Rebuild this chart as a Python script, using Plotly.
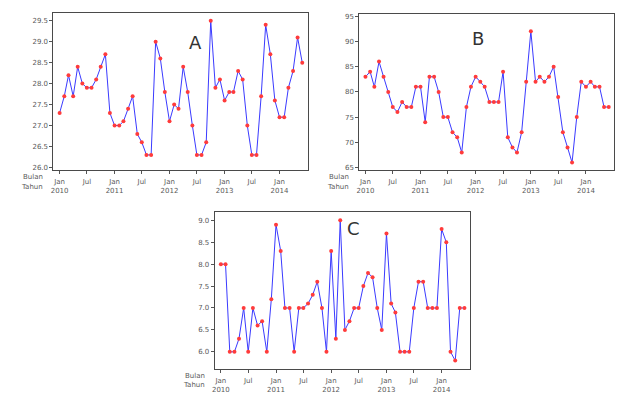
import pandas as pd
import plotly.graph_objects as go

# Monthly series, Jan 2010 - Jun 2014
months = pd.date_range("2010-01-01", periods=54, freq="MS")

series_a = [27.3, 27.7, 28.2, 27.7, 28.4, 28.0, 27.9, 27.9, 28.1, 28.4, 28.7, 27.3,
            27.0, 27.0, 27.1, 27.4, 27.7, 26.8, 26.6, 26.3, 26.3, 29.0, 28.6, 27.8,
            27.1, 27.5, 27.4, 28.4, 27.8, 27.0, 26.3, 26.3, 26.6, 29.5, 27.9, 28.1,
            27.6, 27.8, 27.8, 28.3, 28.1, 27.0, 26.3, 26.3, 27.7, 29.4, 28.7, 27.6,
            27.2, 27.2, 27.9, 28.3, 29.1, 28.5]

series_b = [83, 84, 81, 86, 83, 80, 77, 76, 78, 77, 77, 81,
            81, 74, 83, 83, 80, 75, 75, 72, 71, 68, 77, 81,
            83, 82, 81, 78, 78, 78, 84, 71, 69, 68, 72, 82,
            92, 82, 83, 82, 83, 85, 79, 72, 69, 66, 75, 82,
            81, 82, 81, 81, 77, 77]

series_c = [8.0, 8.0, 6.0, 6.0, 6.3, 7.0, 6.0, 7.0, 6.6, 6.7, 6.0, 7.2,
            8.9, 8.3, 7.0, 7.0, 6.0, 7.0, 7.0, 7.1, 7.3, 7.6, 7.0, 6.0,
            8.3, 6.3, 9.0, 6.5, 6.7, 7.0, 7.0, 7.5, 7.8, 7.7, 7.0, 6.5,
            8.7, 7.1, 6.9, 6.0, 6.0, 6.0, 7.0, 7.6, 7.6, 7.0, 7.0, 7.0,
            8.8, 8.5, 6.0, 5.8, 7.0, 7.0]

tick_dates = ["2010-01-01", "2010-07-01", "2011-01-01", "2011-07-01", "2012-01-01",
              "2012-07-01", "2013-01-01", "2013-07-01", "2014-01-01"]
tick_text = ["Jan<br>2010", "Jul", "Jan<br>2011", "Jul", "Jan<br>2012",
             "Jul", "Jan<br>2013", "Jul", "Jan<br>2014"]

panel_labels = ["A", "B", "C"]
a_ticks = [26.0, 26.5, 27.0, 27.5, 28.0, 28.5, 29.0, 29.5]
b_ticks = [65, 70, 75, 80, 85, 90, 95]
c_ticks = [6.0, 6.5, 7.0, 7.5, 8.0, 8.5, 9.0]

W, H = 617, 394

def px_x(p):
    return p / W

def px_y(p):
    return 1 - p / H

fig = go.Figure()

panels = [
    dict(y=series_a, xax="x", yax="y", xd=[50.7, 306], yd=[12, 173], yr=[25.95, 29.69],
         ticks=a_ticks, fmt=".1f", title_xy=(185, 30), lab_x=42.5, lab_y=(181, 190.5)),
    dict(y=series_b, xax="x2", yax="y2", xd=[358, 614], yd=[13, 173], yr=[64.6, 95.5],
         ticks=b_ticks, fmt="d", title_xy=(485, 26), lab_x=349.5, lab_y=(181, 190.5)),
    dict(y=series_c, xax="x3", yax="y3", xd=[212.7, 469], yd=[216.5, 377.5], yr=[5.61, 9.19],
         ticks=c_ticks, fmt=".1f", title_xy=(352, 233), lab_x=205, lab_y=(384.5, 394)),
]

font_fam = "DejaVu Sans"
tick_font = dict(family=font_fam, size=7, color="#5a5a5a")

for i, p in enumerate(panels):
    fig.add_trace(go.Scatter(
        x=months, y=p["y"], xaxis=p["xax"], yaxis=p["yax"],
        mode="lines+markers",
        line=dict(color="#3a3aff", width=1),
        marker=dict(color="#ff3b3b", size=4),
        showlegend=False,
    ))
    sfx = "" if i == 0 else str(i + 1)
    fig.update_layout(**{
        "xaxis" + sfx: dict(
            domain=[px_x(p["xd"][0]), px_x(p["xd"][1])],
            anchor="y" + sfx,
            range=["2009-11-21", "2014-07-06"],
            tickvals=tick_dates, ticktext=tick_text,
            tickfont=tick_font, ticks="outside", ticklen=3, tickcolor="#555555",
            ticklabelstandoff=2,
            showgrid=False, zeroline=False,
            showline=True, mirror=True, linecolor="#4a4a4a", linewidth=1,
        ),
        "yaxis" + sfx: dict(
            domain=[px_y(p["yd"][1]), px_y(p["yd"][0])],
            anchor="x" + sfx,
            range=p["yr"],
            tickvals=p["ticks"], tickformat=p["fmt"],
            tickfont=tick_font, ticks="outside", ticklen=3, tickcolor="#555555",
            showgrid=False, zeroline=False,
            showline=True, mirror=True, linecolor="#4a4a4a", linewidth=1,
        ),
    })
    fig.add_annotation(text=panel_labels[i], xref="paper", yref="paper",
                       x=px_x(p["title_xy"][0]), y=px_y(p["title_xy"][1]),
                       showarrow=False, font=dict(family=font_fam, size=18, color="#333333"))
    for txt, yy in zip(["Bulan", "Tahun"], p["lab_y"]):
        fig.add_annotation(text=txt, xref="paper", yref="paper",
                           x=px_x(p["lab_x"]), y=px_y(yy), xanchor="right", yanchor="middle",
                           showarrow=False, font=tick_font)

fig.update_layout(
    width=W, height=H,
    margin=dict(l=0, r=0, t=0, b=0),
    paper_bgcolor="white", plot_bgcolor="white",
)

fig.write_html("out.html", config={"displayModeBar": False},
               post_script="document.body.style.margin='0';document.body.style.overflow='hidden';")
